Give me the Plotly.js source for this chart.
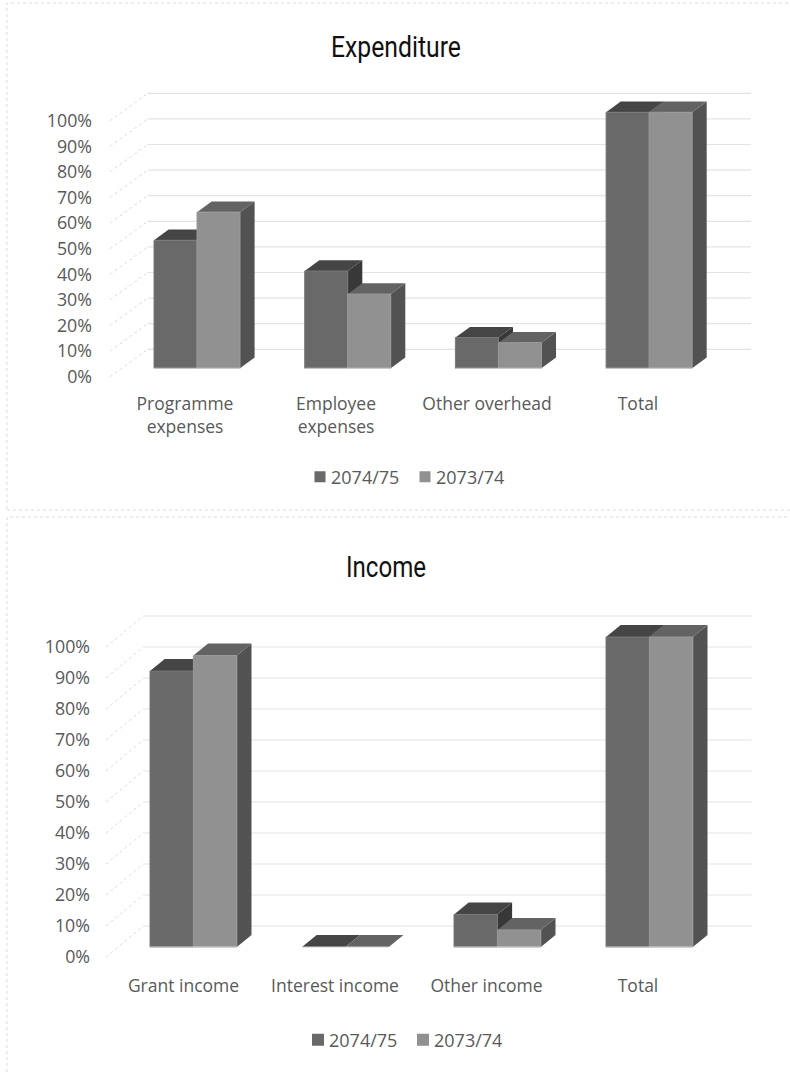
<!DOCTYPE html>
<html><head><meta charset="utf-8">
<script src="https://cdn.plot.ly/plotly-3.0.1.min.js"></script>
<style>html,body{margin:0;padding:0;background:#fff}#c1{width:790px;height:513px}#c2{width:790px;height:559px}div{overflow:hidden}</style>
</head><body><div id="c1"></div><div id="c2"></div>
<script>
// ---- data ----
const seriesNames = ['2074/75', '2073/74'];
const percentTicks = [0, 10, 20, 30, 40, 50, 60, 70, 80, 90, 100];
const percentLabels = ['0%', '10%', '20%', '30%', '40%', '50%', '60%', '70%', '80%', '90%', '100%'];
const expenseCategories = ['Programme<br>expenses', 'Employee<br>expenses', 'Other overhead', 'Total'];
const expense2074 = [50, 38, 12, 100];
const expense2073 = [61, 29, 10, 100];
const incomeCategories = ['Grant income', 'Interest income', 'Other income', 'Total'];
const income2074 = [89, 0, 10.5, 100];
const income2073 = [94, 0, 5.5, 100];

// ---- styles ----
const FRONT = ['#696969', '#919191'], TOP = ['#454545', '#636363'], SIDE = ['#383838', '#525252'], EDGE = ['#787878', '#9a9a9a'];
const TXT = '#595959', FONT = '"Open Sans", "Noto Sans", sans-serif';

function draw(id, cfg) {
  const W = 790, H = cfg.H;
  const xv = px => (px - cfg.label0) / cfg.step;           // pixel -> category units (layout helper)
  const yv = py => (cfg.zeroY - py) / cfg.unit;            // pixel -> percent units (layout helper)
  const wallF = xv(cfg.wallFrontX), wallB = xv(cfg.wallBackX), wallR = xv(cfg.wallRightX);
  const wallDy = yv(cfg.zeroBackY) - yv(cfg.zeroY);
  const barBase = yv(cfg.baseY);
  const bw = cfg.barW / cfg.step, dx = cfg.depthX / cfg.step, dy = cfg.depthY / cfg.unit;
  const off = (cfg.barLeft0 - cfg.label0) / cfg.step, bstep = cfg.barStep / cfg.step;
  const traces = [];
  const noHover = {hoverinfo: 'skip', showlegend: false};
  const poly = (xs, ys, fill, line) => traces.push(Object.assign({type: 'scatter', mode: line ? 'lines' : 'none', x: xs, y: ys, fill: 'toself', fillcolor: fill, line: line ? {color: line, width: 1} : undefined}, noHover));

  // 3-D walls: diagonal + back gridlines
  const gx = [], gy = [], dxs = [], dys = [];
  percentTicks.forEach(v => {
    dxs.push(wallF, wallB, null); dys.push(v, v + wallDy, null);
    gx.push(wallB, wallR, null); gy.push(v + wallDy, v + wallDy, null);
  });
  traces.push(Object.assign({type: 'scatter', mode: 'lines', x: dxs, y: dys, line: {color: '#dcdcdc', width: 1, dash: 'dot'}}, noHover));
  traces.push(Object.assign({type: 'scatter', mode: 'lines', x: gx, y: gy, line: {color: '#e4e4e4', width: 1.2}}, noHover));

  // bars: faces computed from values through the axes
  cfg.categories.forEach((c, i) => {
    [cfg.a, cfg.b].forEach((vals, s) => {
      const v = vals[i], x0 = i * bstep + off + s * bw, x1 = x0 + bw, t = barBase + v;
      if (v > 0) poly([x1, x1, x1 + dx, x1 + dx, x1], [barBase, t, t + dy, barBase + dy, barBase], SIDE[s]);
      poly([x0, x1, x1 + dx, x0 + dx, x0], [t, t, t + dy, t + dy, t], TOP[s]);
      if (v > 0) poly([x0, x0, x1, x1, x0], [barBase, t, t, barBase, barBase], FRONT[s], EDGE[s]);
    });
  });
  // light base line under each bar pair
  const bx = [], by = [];
  cfg.categories.forEach((c, i) => { const x0 = i * bstep + off; bx.push(x0, x0 + 2 * bw, null); by.push(barBase, barBase, null); });
  traces.push(Object.assign({type: 'scatter', mode: 'lines', x: bx, y: by, line: {color: '#d4d4d4', width: 1}}, noHover));

  // legend entries
  seriesNames.forEach((n, s) => traces.push({type: 'scatter', mode: 'markers', x: [null], y: [null], name: n, showlegend: true,
    marker: {symbol: 'square', size: cfg.legendMark, color: FRONT[s]}}));

  const L = cfg.L, R = cfg.R, T = cfg.T, B = cfg.B;
  const px = x => (x - L) / (R - L), py = y => (B - y) / (B - T);
  const layout = {
    width: W, height: H, paper_bgcolor: '#fff', plot_bgcolor: 'rgba(0,0,0,0)',
    margin: {l: L, r: W - R, t: T, b: H - B, pad: 0},
    title: {text: cfg.title, font: {family: 'Roboto, sans-serif', size: cfg.titleSize, color: '#111'},
      x: cfg.titleX / W, xanchor: 'center', y: 1 - cfg.titleY / H, yanchor: 'middle', xref: 'container', yref: 'container'},
    font: {family: FONT, color: TXT, size: 17},
    xaxis: {range: [xv(L), xv(R)], tickmode: 'array', tickvals: cfg.categories.map((c, i) => i), ticktext: cfg.categories,
      showgrid: false, zeroline: false, showline: false, ticks: 'outside', ticklen: cfg.xTickLen, tickcolor: 'rgba(0,0,0,0)', tickfont: {size: cfg.xFont, color: TXT}, tickangle: 0, fixedrange: true},
    yaxis: {range: [yv(B), yv(T)], tickmode: 'array', tickvals: percentTicks, ticktext: percentLabels,
      showgrid: false, zeroline: false, showline: false, ticks: '', tickfont: {size: cfg.yFont, color: TXT}, fixedrange: true},
    showlegend: true,
    legend: {orientation: 'h', x: px(cfg.legendX), xanchor: 'left', y: py(cfg.legendY), yanchor: 'middle', font: {size: cfg.legendFont, color: TXT}, entrywidth: cfg.legendEntry, entrywidthmode: 'pixels', bgcolor: 'rgba(0,0,0,0)', itemclick: false},
    shapes: [{type: 'rect', xref: 'paper', yref: 'paper', x0: px(cfg.frame[0]), x1: px(cfg.frame[2]), y0: py(cfg.frame[3]), y1: py(cfg.frame[1]), line: {color: '#dcdcdc', width: 1, dash: 'dot'}, layer: 'below'}]
  };
  Plotly.newPlot(id, traces, layout, {displayModeBar: false, staticPlot: true}).then(() => {
    // the reference title face is condensed: squeeze the real text to its width
    const t = document.querySelector('#' + id + ' .gtitle');
    if (t) { t.setAttribute('textLength', cfg.titleWidth); t.setAttribute('lengthAdjust', 'spacingAndGlyphs'); }
    // tighten the gap between legend swatch and label
    document.querySelectorAll('#' + id + ' .legendtext').forEach(e => e.setAttribute('x', cfg.legendTextX));
  });
}

draw('c1', {H: 513, title: 'Expenditure', titleSize: 30, titleWidth: 130, titleX: 396, titleY: 46,
  categories: expenseCategories, a: expense2074, b: expense2073,
  L: 93, R: 770, T: 85, B: 388, zeroY: 376.7, unit: 2.56, zeroBackY: 349.3, baseY: 368.3,
  wallFrontX: 110, wallBackX: 147.7, wallRightX: 751, label0: 185, step: 151,
  barLeft0: 154, barStep: 150.7, barW: 43, depthX: 14.6, depthY: 10.7,
  xTickLen: 0, xFont: 17.5, yFont: 17.8, legendFont: 18, legendMark: 11, legendTextX: 31, legendX: 300, legendY: 477, legendEntry: 60,
  frame: [7, 3, 792, 510]});

draw('c2', {H: 559, title: 'Income', titleSize: 30, titleWidth: 80, titleX: 386, titleY: 53,
  categories: incomeCategories, a: income2074, b: income2073,
  L: 91, R: 770, T: 90, B: 457, zeroY: 444, unit: 3.1, zeroBackY: 413, baseY: 434,
  wallFrontX: 106, wallBackX: 143.3, wallRightX: 751.7, label0: 183.5, step: 151.5,
  barLeft0: 150, barStep: 152, barW: 43.4, depthX: 14.7, depthY: 12,
  xTickLen: 0, xFont: 17.5, yFont: 17.8, legendFont: 18, legendMark: 12, legendTextX: 31, legendX: 298, legendY: 527, legendEntry: 60,
  frame: [7, 4, 792, 570]});
</script></body></html>
